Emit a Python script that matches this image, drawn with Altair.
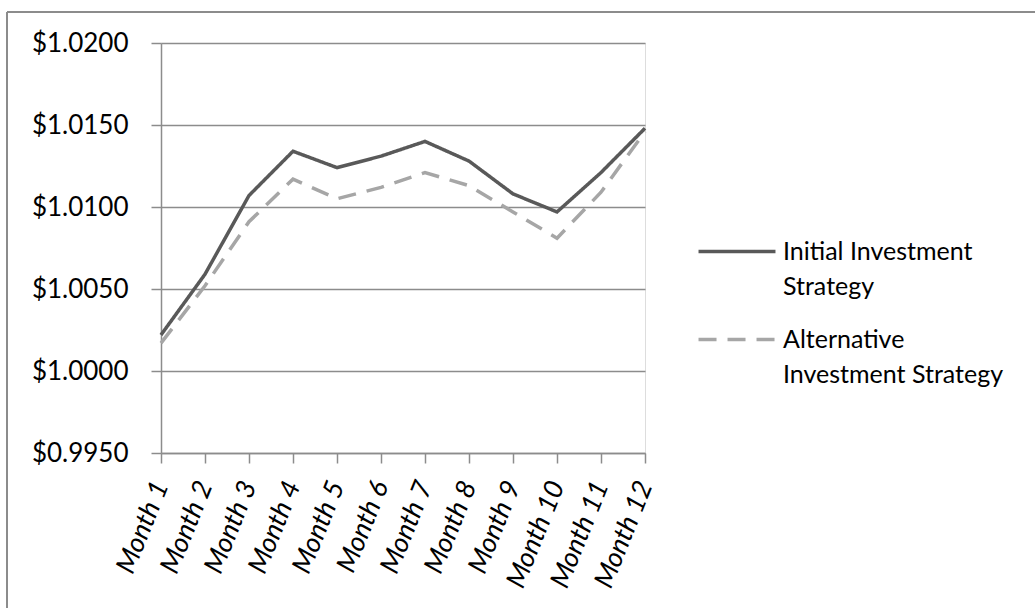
import altair as alt
import pandas as pd

# Month labels along the x axis
months = ["Month 1", "Month 2", "Month 3", "Month 4", "Month 5", "Month 6",
          "Month 7", "Month 8", "Month 9", "Month 10", "Month 11", "Month 12"]

# Value of $1 under each strategy at month end
initial = [1.0022, 1.0059, 1.0107, 1.0134, 1.0124, 1.0131,
           1.0140, 1.0128, 1.0108, 1.0097, 1.0121, 1.0148]
alternative = [1.0017, 1.0052, 1.0091, 1.0117, 1.0105, 1.0112,
               1.0121, 1.0113, 1.0097, 1.0081, 1.0109, 1.0146]

series_names = ["Initial Investment Strategy", "Alternative Investment Strategy"]
legend_lines = [["Initial Investment", "Strategy"], ["Alternative", "Investment Strategy"]]
y_ticks = [0.995, 1.000, 1.005, 1.010, 1.015, 1.020]

rows = []
# alternative first so the solid line is drawn over it
for name, vals in [(series_names[1], alternative), (series_names[0], initial)]:
    for m, v in zip(months, vals):
        rows.append({"Month": m, "Value": v, "Series": name})
df = pd.DataFrame(rows)

# two-line legend labels
label_expr = "datum.label == '{}' ? {} : {}".format(
    series_names[0],
    "[" + ", ".join("'%s'" % s for s in legend_lines[0]) + "]",
    "[" + ", ".join("'%s'" % s for s in legend_lines[1]) + "]",
)

FONT = "Lato"
GRID = "#8c8c8c"

# long, slightly lowered line swatch so it sits level with the first label line
legend = alt.Legend(
    title=None, orient="none", legendX=561, legendY=182,
    labelExpr=label_expr, labelFont=FONT, labelFontSize=25, labelColor="#000000",
    labelBaseline="top", labelOffset=31, labelLimit=400,
    symbolType="M-2.96,0.88H2.96", symbolSize=676, symbolStrokeWidth=3.5,
    rowPadding=13,
)

lines = alt.Chart(df).mark_line(strokeWidth=3.5).encode(
    x=alt.X("Month:N", sort=months,
            scale=alt.Scale(type="point", padding=0),
            axis=alt.Axis(title=None, labelAngle=-68, labelAlign="right",
                          labelBaseline="middle", labelFontStyle="italic",
                          labelFontSize=27, labelFont=FONT, labelColor="#000000",
                          labelPadding=19, tickSize=10, tickColor=GRID,
                          tickWidth=1.5, domainColor=GRID, domainWidth=1.5,
                          grid=False)),
    y=alt.Y("Value:Q",
            scale=alt.Scale(domain=[0.995, 1.02], nice=False, zero=False),
            axis=alt.Axis(title=None, values=y_ticks, format="$.4f",
                          labelFontSize=26, labelFont=FONT, labelColor="#000000",
                          labelPadding=23, tickSize=10, tickColor=GRID,
                          tickWidth=1.5, domainColor=GRID, domainWidth=1.5,
                          grid=True, gridColor=GRID, gridWidth=1.5)),
    color=alt.Color("Series:N",
                    scale=alt.Scale(domain=series_names, range=["#595959", "#a6a6a6"]),
                    legend=legend),
    strokeDash=alt.StrokeDash("Series:N",
                              scale=alt.Scale(domain=series_names, range=[[1, 0], [18, 11]]),
                              legend=legend),
    detail="Series:N",
)

# outer chart frame (left and top edges)
frame_df = pd.DataFrame({"k": [0]})
frame_left = alt.Chart(frame_df).mark_rule(color=GRID, strokeWidth=2).encode(
    x=alt.value(-154), y=alt.value(-31), y2=alt.value(600))
frame_top = alt.Chart(frame_df).mark_rule(color=GRID, strokeWidth=2).encode(
    x=alt.value(-154), x2=alt.value(900), y=alt.value(-31))

chart = alt.layer(lines, frame_left, frame_top).properties(
    width=484, height=410,
    autosize=alt.AutoSizeParams(type="none"),
    padding={"left": 161, "top": 43, "right": 390, "bottom": 155},
    background="white",
).configure_view(strokeWidth=0).configure(
    style={"guide-label": {"lineHeight": 35}}
)

chart.save("out.html", embed_options={"renderer": "svg", "actions": False})
